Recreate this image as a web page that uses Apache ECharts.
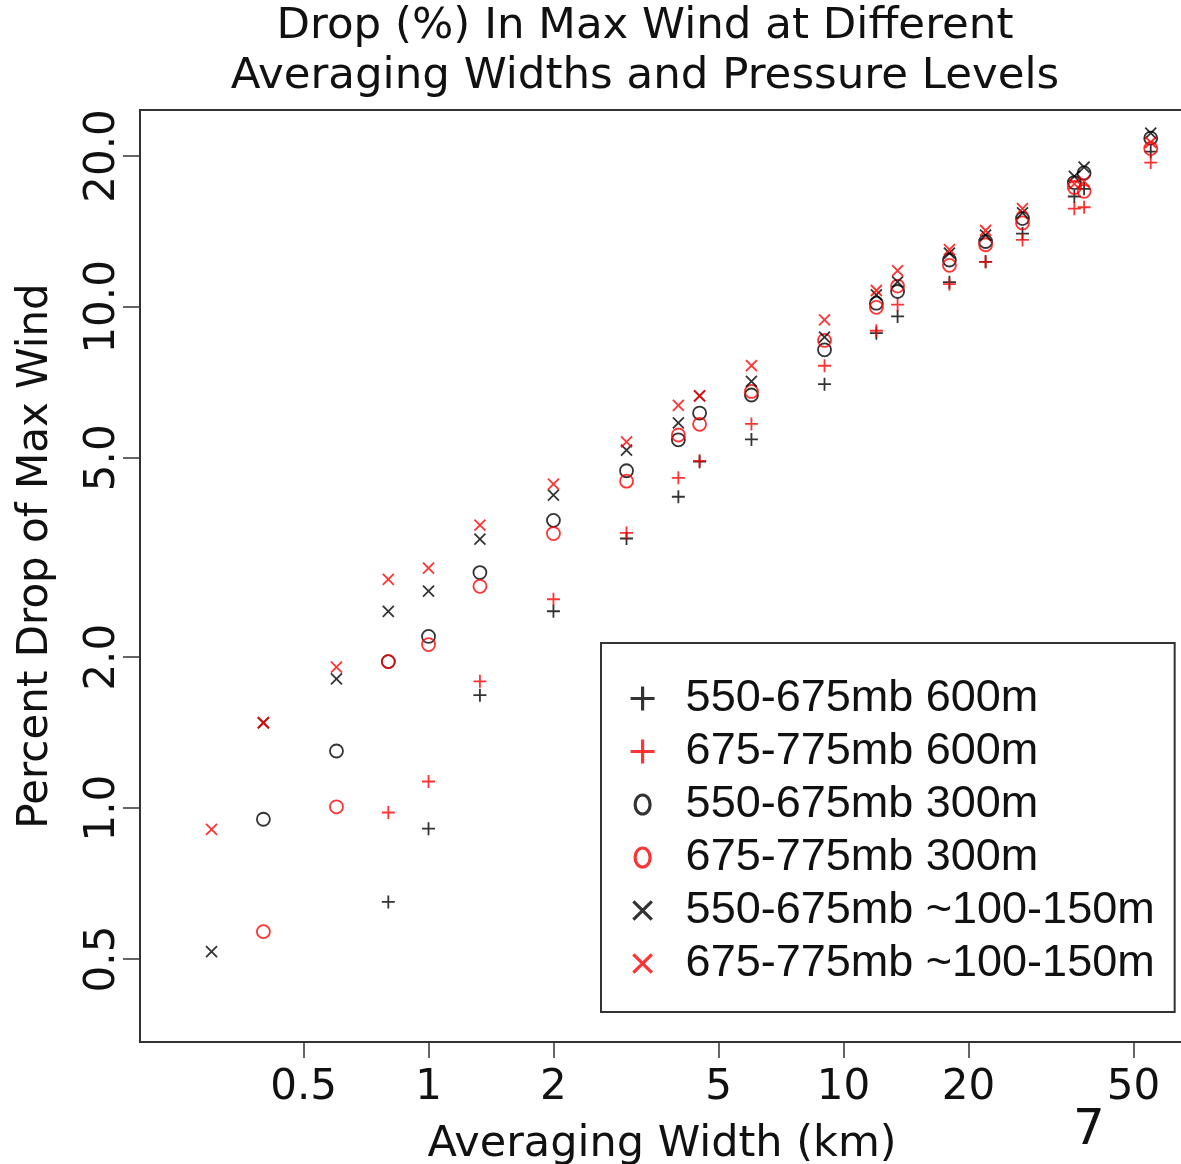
<!DOCTYPE html>
<html>
<head>
<meta charset="utf-8">
<title>Drop in Max Wind</title>
<script src="https://cdn.jsdelivr.net/npm/echarts@6/dist/echarts.min.js"></script>
<style>
  html, body { margin: 0; padding: 0; background: #fff; }
  #chart { width: 1181px; height: 1164px; }
</style>
</head>
<body>
<div id="chart"></div>
<script>
// averaging widths (km) used by each grid spacing
var widths600 = [0.8, 1, 1.33, 2, 3, 4, 4.5, 6, 9, 12, 13.5, 18, 22, 27, 36, 38, 55];
var widths300 = [0.4, 0.6, 0.8, 1, 1.33, 2, 3, 4, 4.5, 6, 9, 12, 13.5, 18, 22, 27, 36, 38, 55];
var widths100 = [0.3, 0.4, 0.6, 0.8, 1, 1.33, 2, 3, 4, 4.5, 6, 9, 12, 13.5, 18, 22, 27, 36, 38, 55];

// percent drop of max wind
var upper600 = [0.65, 0.91, 1.68, 2.47, 3.45, 4.18, 4.91, 5.44, 7.01, 8.86, 9.57, 11.2, 12.3, 14.0, 16.6, 17.2, 20.4];
var lower600 = [0.98, 1.13, 1.79, 2.61, 3.54, 4.56, 4.93, 5.84, 7.63, 8.96, 10.1, 11.1, 12.3, 13.6, 15.7, 15.8, 19.4];
var upper300 = [0.95, 1.30, 1.96, 2.20, 2.95, 3.75, 4.71, 5.43, 6.14, 6.67, 8.21, 10.17, 10.73, 12.4, 13.5, 15.0, 17.7, 18.5, 21.7];
var lower300 = [0.567, 1.006, 1.96, 2.12, 2.77, 3.53, 4.49, 5.55, 5.83, 6.78, 8.57, 9.98, 11.0, 12.1, 13.3, 14.7, 17.3, 17.0, 20.7];
var upper100 = [0.517, 1.48, 1.81, 2.47, 2.71, 3.44, 4.21, 5.18, 5.87, 6.64, 7.10, 8.70, 10.57, 11.22, 12.8, 13.9, 15.4, 18.2, 19.0, 22.2];
var lower100 = [0.907, 1.48, 1.91, 2.86, 3.01, 3.67, 4.43, 5.38, 6.36, 6.64, 7.63, 9.42, 10.78, 11.81, 13.0, 14.2, 15.7, 17.6, 17.8, 21.3];

var xTicks = [0.5, 1, 2, 5, 10, 20, 50];
var yTicks = [0.5, 1, 2, 5, 10, 20];

var names = [
  '550-675mb 600m', '675-775mb 600m',
  '550-675mb 300m', '675-775mb 300m',
  '550-675mb ~100-150m', '675-775mb ~100-150m'
];

var PLUS = 'path://M0,-1L0,1M-1,0L1,0';
var CROSS = 'path://M-1,-1L1,1M-1,1L1,-1';
// legend versions (a bit of empty room so the x/o come out smaller than the +)
var LEG_CROSS = 'path://M-1.3,-1.3M1.3,1.3M-1,-1L1,1M-1,1L1,-1';
var LEG_O = 'path://M0,-12M0,12M0,-9.5A7.5,9.5,0,1,1,0,9.5A7.5,9.5,0,1,1,0,-9.5Z';

function pairs(xs, ys) {
  return xs.map(function (x, i) { return [x, ys[i]]; });
}

function pointSeries(name, xs, ys, symbol, size, color) {
  return {
    name: name,
    type: 'scatter',
    data: pairs(xs, ys),
    symbol: symbol,
    symbolSize: size,
    itemStyle: { color: 'transparent', borderColor: color, borderWidth: 1.8 },
    emphasis: { disabled: true }
  };
}

var chart = echarts.init(document.getElementById('chart'));

var option = {
  backgroundColor: '#fff',
  animation: false,
  title: {
    text: 'Drop (%) In Max Wind at Different\nAveraging Widths and Pressure Levels',
    left: 645,
    top: 2,
    padding: 0,
    textAlign: 'center',
    textStyle: {
      fontFamily: 'DejaVu Sans',
      fontSize: 43.5,
      fontWeight: 'normal',
      lineHeight: 50,
      color: '#111'
    }
  },
  grid: {
    left: 140,
    top: 110,
    width: 1044,
    height: 932,
    outerBoundsMode: 'none',
    containLabel: false,
    show: true,
    borderColor: '#333',
    borderWidth: 2
  },
  legend: {
    orient: 'vertical',
    left: 601,
    top: 643,
    padding: [29, 20, 22, 28],
    itemGap: 0,
    itemWidth: 76,
    itemHeight: 24,
    backgroundColor: '#fff',
    borderColor: '#333',
    borderWidth: 2,
    selectedMode: false,
    itemStyle: { borderWidth: 3.2 },
    textStyle: {
      fontFamily: 'Liberation Sans',
      fontSize: 45,
      lineHeight: 53,
      color: '#111'
    },
    data: [
      { name: names[0], icon: PLUS },
      { name: names[1], icon: PLUS },
      { name: names[2], icon: LEG_O },
      { name: names[3], icon: LEG_O },
      { name: names[4], icon: LEG_CROSS },
      { name: names[5], icon: LEG_CROSS }
    ]
  },
  xAxis: {
    type: 'log',
    logBase: 10,
    min: 0.2017,
    max: 66.15,
    name: 'Averaging Width (km)',
    nameLocation: 'middle',
    nameGap: 81,
    nameTextStyle: { fontFamily: 'DejaVu Sans', fontSize: 43, color: '#111' },
    axisLine: { show: false },
    splitLine: { show: false },
    minorTick: { show: false },
    axisTick: { show: true, length: 16, customValues: xTicks, lineStyle: { color: '#333', width: 1.5 } },
    axisLabel: {
      customValues: xTicks,
      margin: 25,
      fontFamily: 'DejaVu Sans',
      fontSize: 42,
      color: '#111',
      formatter: function (v) { return String(v); }
    }
  },
  yAxis: {
    type: 'log',
    logBase: 10,
    min: 0.3415,
    max: 24.70,
    name: 'Percent Drop of Max Wind',
    nameLocation: 'middle',
    nameGap: 83,
    nameTextStyle: { fontFamily: 'DejaVu Sans', fontSize: 42, color: '#111', padding: [0, 0, 0, 40] },
    axisLine: { show: false },
    splitLine: { show: false },
    minorTick: { show: false },
    axisTick: { show: true, length: 17, customValues: yTicks, lineStyle: { color: '#333', width: 1.5 } },
    axisLabel: {
      customValues: yTicks,
      rotate: 90,
      margin: 16,
      fontFamily: 'DejaVu Sans',
      fontSize: 42,
      color: '#111',
      formatter: function (v) { return Number(v).toFixed(1); }
    }
  },
  graphic: [{
    type: 'text',
    left: 1073,
    top: 1106,
    style: { text: '7', fontFamily: 'DejaVu Sans', fontSize: 50, fill: '#111' }
  }],
  series: [
    pointSeries(names[0], widths600, upper600, PLUS, 13, '#000'),
    pointSeries(names[1], widths600, lower600, PLUS, 13, '#ff0000'),
    pointSeries(names[2], widths300, upper300, 'circle', 13, '#000'),
    pointSeries(names[3], widths300, lower300, 'circle', 13, '#ff0000'),
    pointSeries(names[4], widths100, upper100, CROSS, 11, '#000'),
    pointSeries(names[5], widths100, lower100, CROSS, 11, '#ff0000')
  ]
};

chart.setOption(option);
window.addEventListener('resize', function () { chart.resize(); });
</script>
</body>
</html>
